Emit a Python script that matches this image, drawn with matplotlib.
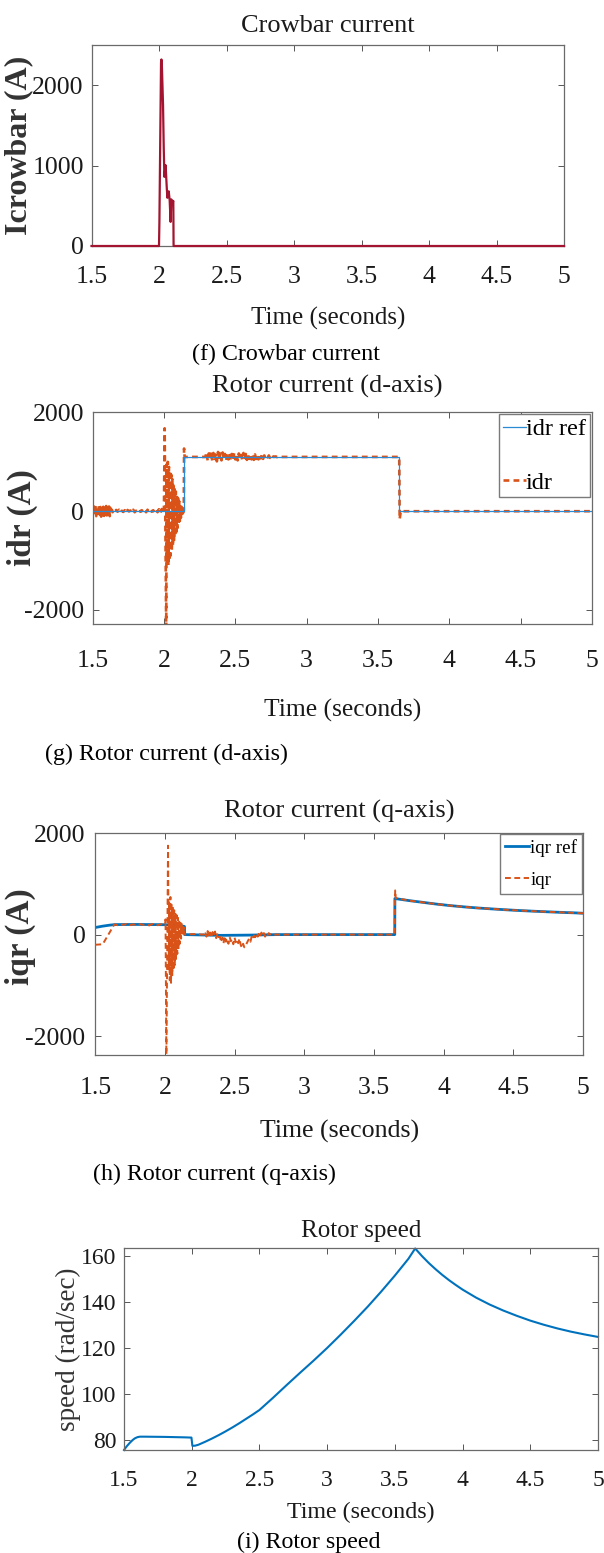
import numpy as np
import matplotlib
matplotlib.use("Agg")
import matplotlib.pyplot as plt

plt.rcParams['font.family'] = ['Liberation Serif', 'DejaVu Serif']
plt.rcParams['axes.unicode_minus'] = False

W, H = 604, 1553
BLUE = '#0072BD'
ORANGE = '#D95319'
RED = '#A2142F'
INK = '#1a1a1a'

# ---------------- (f) crowbar current ----------------
crow_t = [1.5, 2.000, 2.003, 2.015, 2.018, 2.021, 2.030, 2.035, 2.040, 2.049, 2.057,
          2.062, 2.072, 2.079, 2.086, 2.091, 2.101, 2.106, 2.108, 5.0]
crow_i = [0, 0, 300, 2280, 2320, 2260, 1750, 1230, 860, 1005, 740,
          600, 680, 570, 300, 580, 540, 560, 0, 0]

# ---------------- (g) rotor current, d-axis ----------------
idr_ref_t = [1.5, 2.14, 2.14, 3.65, 3.65, 5.0]
idr_ref = [0, 0, 1100, 1100, 0, 0]

# noisy start, 1.50 .. 1.64 s
idr_a = [60, -80, 95, -40, 110, -100, 70, -90, 40, 100, -70, 85, -110, 60, -50,
         90, -95, 75, -60, 105, -85, 50, -70, 95, -100, 65, -45, 30, -20]
# quiet stretch, 1.645 .. 1.995 s
idr_b = [15, -20, 25, -10, 30, -25, 10, -15, 20, -30, 25, -5, 15, -25, 30, -20, 10, -15,
         25, -10, 20, -30, 15, -20, 30, -15, 25, -10, 20, -25, 30, -20, 40, -35, 45, -40]
# fault transient
idr_spike_t = [2.000, 2.005, 2.016]
idr_spike = [0, 1680, -2450]
# decaying oscillation, 2.019 .. 2.139 s
idr_osc = [950, -1050, 1000, -1100, 900, -1000, 820, -900, 740, -800, 650, -700, 560, -600,
           480, -500, 400, -420, 330, -340, 260, -270, 200, -200, 140, -130, 90, -80, 50, -30, 0]
idr_step_t = [2.141, 2.145, 2.285]
idr_step = [1270, 1100, 1100]
# ripple after the step, 2.29 .. 2.80 s
idr_rip = [1100, 1190, 1030, 1170, 1050, 1210, 1020, 1180, 1060, 1150, 1010, 1200, 1040,
           1170, 1030, 1190, 1060, 1160, 1020, 1180, 1050, 1170, 1030, 1160, 1040, 1190,
           1050, 1150, 1030, 1170, 1060, 1140, 1040, 1180, 1050, 1160, 1040, 1170, 1060,
           1150, 1050, 1160, 1040, 1150, 1060, 1140, 1050, 1150, 1070, 1140, 1060, 1130,
           1080, 1120, 1090, 1130, 1080, 1120, 1090, 1110, 1100, 1110, 1095, 1100]
idr_tail_t = [2.81, 3.649, 3.652, 3.66, 5.0]
idr_tail = [1100, 1100, -160, 0, 0]

# ---------------- (h) rotor current, q-axis ----------------
iqr_dec_t = [3.65, 3.75, 3.85, 3.95, 4.05, 4.15, 4.25, 4.35, 4.45, 4.55, 4.65, 4.75, 4.85, 4.95, 5.0]
iqr_dec = [710, 670, 635, 600, 570, 545, 523, 505, 488, 473, 460, 448, 437, 427, 420]
iqr_ref_t = [1.5, 1.55, 1.60, 1.64, 1.8, 2.0, 2.06, 2.12, 2.14, 2.141, 2.4, 2.6, 2.8, 3.649]
iqr_ref = [140, 165, 185, 197, 200, 195, 185, 170, 160, 0, -15, -10, 0, 0]

iqr_start_t = [1.5, 1.553, 1.636]
iqr_start = [-200, -190, 197]
# 1.64 .. 1.99 s
iqr_b = [200, 185, 205, 190, 210, 180, 200, 195, 185, 205, 190, 200, 180, 210, 195, 185, 205, 200]
iqr_spike_t = [2.000, 2.004, 2.010, 2.022, 2.027]
iqr_spike = [200, 300, -2450, 1750, -700]
# 2.030 .. 2.138 s
iqr_osc = [650, -900, 740, -950, 600, -800, 550, -700, 480, -600, 430, -480, 380, -380, 330,
           -280, 290, -180, 250, -80, 210, 20, 180, 100, 150]
iqr_mid_t = [2.14, 2.20, 2.27]
iqr_mid = [0, 10, 0]
# 2.28 .. 2.78 s
iqr_rip = [0, 60, -40, 70, -50, 40, -60, 50, -30, 60, -70, 30, -50,
           -40, -150, -60, -170, -30, -140, -80, -180, -50, -130, -90, -190, -60, -150, -100, -170, -80,
           -200, -260, -180, -250, -220, -170,
           -120, -80, -140, -40, -90, -20,
           -50, 20, -40, 30, -30, 40, -20, 30, -40, 20, -10, 30, 0, 10, -10, 0]
iqr_jump_t = [2.79, 3.648, 3.652, 3.656]
iqr_jump = [0, 0, 870, 720]

# ---------------- (i) rotor speed ----------------
spd_t = [1.5, 1.52, 1.544, 1.565, 1.581, 1.60, 1.618, 1.65, 1.8, 1.95, 1.998, 2.0, 2.005,
         2.026, 2.05, 2.1, 2.15, 2.2, 2.25, 2.3, 2.35, 2.4, 2.45, 2.5, 2.6, 2.7, 2.8, 2.9,
         3.0, 3.1, 3.2, 3.3, 3.4, 3.5, 3.6, 3.65, 3.7, 3.75, 3.8, 3.85, 3.9, 3.95, 4.0,
         4.1, 4.2, 4.3, 4.4, 4.5, 4.6, 4.7, 4.8, 4.9, 5.0]
spd = [75.6, 77.2, 78.8, 80.0, 80.7, 81.2, 81.4, 81.4, 81.3, 81.1, 81.0, 80.0, 77.4,
       77.5, 77.9, 79.2, 80.6, 82.1, 83.7, 85.4, 87.2, 89.1, 91.0, 93.0, 98.3, 103.8, 109.2, 114.5,
       120.0, 125.8, 131.8, 138.0, 144.6, 151.5, 158.8, 163.3, 160.0, 157.0, 154.3, 151.8, 149.5, 147.4, 145.4,
       141.9, 138.9, 136.3, 134.0, 131.9, 130.1, 128.5, 127.1, 125.9, 124.8]

time_ticks = [1.5, 2, 2.5, 3, 3.5, 4, 4.5, 5]
time_labels = ['1.5', '2', '2.5', '3', '3.5', '4', '4.5', '5']


def panel(left, top, right, bottom):
    # axes placed by pixel edges
    return fig.add_axes([left / W, 1 - bottom / H, (right - left) / W, (bottom - top) / H])


def style(ax, size, xpad, ypad):
    for s in ax.spines.values():
        s.set_color('#6a6a6a')
        s.set_linewidth(0.9)
    ax.set_xlim(1.5, 5)
    ax.set_xticks(time_ticks)
    ax.set_xticklabels(time_labels)
    ax.tick_params(direction='in', top=True, right=True, length=4, width=0.7,
                   color='#555555', labelsize=size, labelcolor=INK)
    ax.tick_params(axis='x', pad=xpad)
    ax.tick_params(axis='y', pad=ypad)


def caption(x, y, s):
    fig.text(x / W, 1 - y / H, s, fontsize=17.3, color='black', ha='left', va='baseline')


fig = plt.figure(figsize=(W / 100, H / 100), dpi=100)

# (f)
ax1 = panel(91.5, 45, 564, 246)
ax1.plot(crow_t, crow_i, color=RED, lw=1.6, clip_on=False, zorder=3)
ax1.set_ylim(0, 2500)
ax1.set_yticks([0, 1000, 2000])
style(ax1, 18.5, 14.4, 5.5)
ax1.set_title('Crowbar current', fontsize=19, color=INK, pad=0, y=1.065, va='baseline')
ax1.set_xlabel('Time (seconds)', fontsize=18, color=INK, va='baseline')
ax1.xaxis.set_label_coords(0.5, -0.393)
ax1.set_ylabel('Icrowbar (A)', fontsize=23, fontweight='bold', color='#333333', va='center')
ax1.yaxis.set_label_coords(-0.153, 0.5)
caption(192, 360, '(f) Crowbar current')

# (g)
ax2 = panel(92.6, 412, 592, 624)
idr_t = np.concatenate([np.linspace(1.5, 1.64, len(idr_a)), np.linspace(1.645, 1.995, len(idr_b)),
                        idr_spike_t, np.linspace(2.019, 2.139, len(idr_osc)), idr_step_t,
                        np.linspace(2.29, 2.80, len(idr_rip)), idr_tail_t])
idr = np.concatenate([idr_a, idr_b, idr_spike, idr_osc, idr_step, idr_rip, idr_tail])
ax2.plot(idr_ref_t, idr_ref, color='#2a8ad4', lw=0.9, label='idr ref', zorder=3)
ax2.plot(idr_t, idr, color=ORANGE, lw=1.9, ls=(0, (2.2, 1.6)), label='idr', zorder=2)
ax2.set_ylim(-2285, 2010)
ax2.set_yticks([-2000, 0, 2000])
style(ax2, 18.5, 18.5, 6)
ax2.set_title('Rotor current (d-axis)', fontsize=19, color=INK, pad=0, x=0.469, y=1.09, va='baseline')
ax2.set_xlabel('Time (seconds)', fontsize=18.4, color=INK, va='baseline')
ax2.xaxis.set_label_coords(0.5, -0.439)
ax2.set_ylabel('idr (A)', fontsize=24, fontweight='bold', color='#333333', va='center')
ax2.yaxis.set_label_coords(-0.141, 0.5)
leg = ax2.legend(loc='upper right', bbox_to_anchor=(1.0, 1.0), borderaxespad=0.1, fontsize=17.5,
                 handlelength=0.95, handletextpad=0.0, borderpad=0.15, labelspacing=1.3,
                 fancybox=False, edgecolor='#7a7a7a', framealpha=1)
leg.get_frame().set_linewidth(1.0)
caption(45, 760, '(g) Rotor current (d-axis)')

# (h)
ax3 = panel(95.3, 833, 583, 1055)
iqr_t = np.concatenate([iqr_start_t, np.linspace(1.64, 1.99, len(iqr_b)), iqr_spike_t,
                        np.linspace(2.030, 2.138, len(iqr_osc)), iqr_mid_t,
                        np.linspace(2.28, 2.78, len(iqr_rip)), iqr_jump_t, iqr_dec_t[1:]])
iqr = np.concatenate([iqr_start, iqr_b, iqr_spike, iqr_osc, iqr_mid, iqr_rip, iqr_jump, iqr_dec[1:]])
ax3.plot(np.concatenate([iqr_ref_t, iqr_dec_t]), np.concatenate([iqr_ref, iqr_dec]),
         color=BLUE, lw=2.0, label='iqr ref', zorder=2)
ax3.plot(iqr_t, iqr, color=ORANGE, lw=1.4, ls=(0, (3, 1.8)), label='iqr', zorder=3)
ax3.set_ylim(-2370, 2000)
ax3.set_yticks([-2000, 0, 2000])
style(ax3, 18.5, 15.8, 7)
ax3.set_title('Rotor current (q-axis)', fontsize=19, color=INK, pad=0, y=1.068, va='baseline')
ax3.set_xlabel('Time (seconds)', fontsize=18.6, color=INK, va='baseline')
ax3.xaxis.set_label_coords(0.5, -0.374)
ax3.set_ylabel('iqr (A)', fontsize=24, fontweight='bold', color='#333333', va='center')
ax3.yaxis.set_label_coords(-0.154, 0.532)
leg = ax3.legend(loc='upper right', bbox_to_anchor=(1.0, 1.0), borderaxespad=0.05, fontsize=13.7,
                 handlelength=1.3, handletextpad=0.05, borderpad=0.25, labelspacing=0.8,
                 fancybox=False, edgecolor='#7a7a7a', framealpha=1)
leg.get_frame().set_linewidth(1.0)
caption(92.6, 1180, '(h) Rotor current (q-axis)')

# (i)
ax4 = panel(124, 1248, 598, 1450)
ax4.plot(spd_t, spd, color=BLUE, lw=1.5, clip_on=False)
ax4.set_ylim(75.6, 163.5)
ax4.set_yticks([80, 100, 120, 140, 160])
style(ax4, 17, 14.4, 5.5)
ax4.set_title('Rotor speed', fontsize=18, color=INK, pad=0, y=1.054, va='baseline')
ax4.set_xlabel('Time (seconds)', fontsize=17.3, color=INK, va='baseline')
ax4.xaxis.set_label_coords(0.5, -0.337)
ax4.set_ylabel('speed (rad/sec)', fontsize=19.5, color='#333333', va='center')
ax4.yaxis.set_label_coords(-0.118, 0.5)
caption(237, 1548, '(i) Rotor speed')

fig.savefig('out.png', dpi=100)
